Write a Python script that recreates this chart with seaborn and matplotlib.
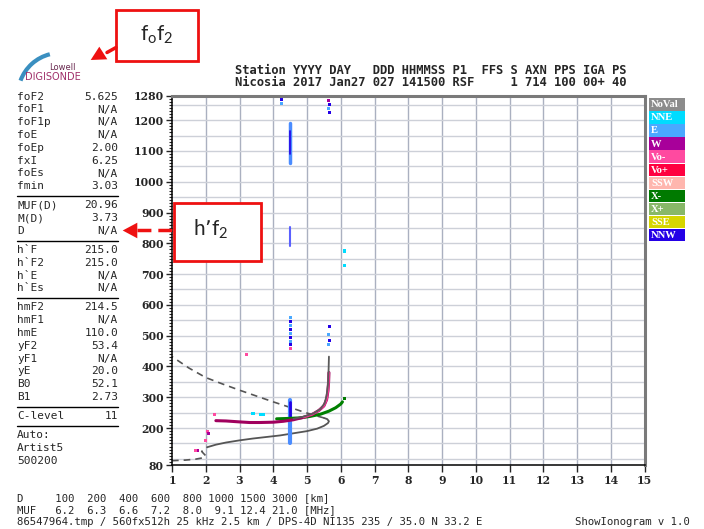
import matplotlib
matplotlib.use("Agg")
import matplotlib.pyplot as plt
import seaborn as sns
import pandas as pd
from matplotlib.patches import Rectangle, Polygon, Arc
from matplotlib.ticker import FixedLocator, MultipleLocator

# ---- values (frequency in MHz, virtual height in km) ----
freq_ticks = list(range(1, 16))
height_ticks = [80, 200, 300, 400, 500, 600, 700, 800, 900, 1000, 1100, 1200, 1280]

# O-mode trace
o_freq = [2.3, 2.6, 3.0, 3.3, 3.6, 4.0, 4.3, 4.6, 4.9, 5.15, 5.35, 5.5, 5.58, 5.62, 5.64, 5.65]
o_height = [224, 223, 220, 218, 218, 219, 222, 227, 235, 244, 257, 272, 292, 320, 350, 380]

# X-mode trace
x_freq = [4.1, 4.4, 4.8, 5.1, 5.4, 5.65, 5.85, 6.0, 6.05]
x_height = [230, 231, 233, 238, 245, 255, 266, 278, 285]

# autoscaled trace fit
fit_freq = [4.6, 4.9, 5.2, 5.4, 5.52, 5.58, 5.62, 5.64, 5.65]
fit_height = [230, 237, 248, 262, 280, 305, 340, 390, 432]

# electron density profile (solid part, bottomside and topside extrapolation)
prof_freq = [2.05, 2.3, 2.6, 3.0, 3.4, 3.8, 4.2, 4.6, 5.0, 5.3, 5.5, 5.62, 5.65, 5.6, 5.5]
prof_height = [138, 146, 153, 160, 166, 171, 176, 183, 190, 198, 207, 216, 222, 229, 233]
bottom_freq = [1.0, 1.4, 1.7, 1.9, 2.0, 1.93, 1.88, 1.95, 2.05]
bottom_height = [94, 96, 99, 103, 110, 118, 124, 131, 138]
top_freq = [5.5, 5.2, 4.9, 4.5, 4.0, 3.5, 3.0, 2.5, 2.0, 1.5, 1.0]
top_height = [233, 242, 252, 267, 285, 304, 323, 343, 364, 395, 432]

# vertical echo columns at 4.5 MHz
col_freq = [4.5, 4.5]
col_low = [152, 292]
col_low_core = [232, 285]
col_mid = [790, 852]
col_high = [1060, 1192]
col_high_core = [1090, 1165]

# scattered echoes
speck_freq = [4.5, 4.5, 4.5, 4.5, 4.5, 4.5, 4.5, 4.5, 4.5,
              4.24, 4.25, 5.65, 5.66, 5.65, 5.66, 5.65, 5.66, 5.65, 5.66,
              6.1, 6.1, 2.05, 2.08, 2.0, 1.75, 1.7, 3.4, 3.62, 3.7, 3.2, 6.1, 2.25]
speck_height = [470, 482, 495, 507, 520, 533, 546, 558, 458,
                1268, 1255, 1265, 1250, 1238, 1225, 470, 485, 505, 530,
                775, 728, 190, 183, 160, 128, 126, 248, 244, 243, 440, 295, 243]
speck_kind = ["NNW", "E", "NNW", "E", "NNW", "E", "NNW", "E", "Vo-",
              "NNW", "E", "W", "NNW", "E", "NNW", "E", "NNW", "E", "NNW",
              "NNE", "NNE", "Vo-", "W", "Vo-", "W", "Vo-", "NNE", "NNE", "NNE", "Vo-", "X-", "Vo-"]

legend_names = ["NoVal", "NNE", "E", "W", "Vo-", "Vo+", "SSW", "X-", "X+", "SSE", "NNW"]
legend_colors = ["#8c8c8c", "#00dcff", "#4aa8ff", "#a8009a", "#ff4aa0", "#ff0040",
                 "#ffb6ae", "#007a00", "#88b868", "#d6d600", "#2400e6"]

param_groups = [
    [("foF2", "5.625"), ("foF1", "N/A"), ("foF1p", "N/A"), ("foE", "N/A"),
     ("foEp", "2.00"), ("fxI", "6.25"), ("foEs", "N/A"), ("fmin", "3.03")],
    [("MUF(D)", "20.96"), ("M(D)", "3.73"), ("D", "N/A")],
    [("h`F", "215.0"), ("h`F2", "215.0"), ("h`E", "N/A"), ("h`Es", "N/A")],
    [("hmF2", "214.5"), ("hmF1", "N/A"), ("hmE", "110.0"), ("yF2", "53.4"),
     ("yF1", "N/A"), ("yE", "20.0"), ("B0", "52.1"), ("B1", "2.73")],
    [("C-level", "11")],
]
auto_lines = ["Auto:", "Artist5", "500200"]

header_lines = ["Station YYYY DAY   DDD HHMMSS P1  FFS S AXN PPS IGA PS",
                "Nicosia 2017 Jan27 027 141500 RSF     1 714 100 00+ 40"]
footer_lines = ["D     100  200  400  600  800 1000 1500 3000 [km]",
                "MUF   6.2  6.3  6.6  7.2  8.0  9.1 12.4 21.0 [MHz]",
                "86547964.tmp / 560fx512h 25 kHz 2.5 km / DPS-4D NI135 235 / 35.0 N 33.2 E"]

sns.set_style("white")
plt.rcParams["font.family"] = ["DejaVu Sans"]

fig = plt.figure(figsize=(7.04, 5.29), dpi=100)
ax = fig.add_axes([172 / 704, 64 / 529, 472.5 / 704, 369.5 / 529])
ax.set_xlim(1, 15)
ax.set_ylim(80, 1280)

# grid
for f in range(2, 15):
    ax.axvline(f, color="#aab0c0", lw=1.0, zorder=0)
for h in range(100, 1280, 50):
    ax.axhline(h, color="#cdd0d8", lw=1.0, zorder=0)

# profile
sns.lineplot(x=bottom_freq, y=bottom_height, sort=False, estimator=None, color="#555555",
             lw=1.2, linestyle=(0, (4, 3)), ax=ax)
sns.lineplot(x=prof_freq, y=prof_height, sort=False, estimator=None, color="#555555", lw=1.3, ax=ax)
sns.lineplot(x=top_freq, y=top_height, sort=False, estimator=None, color="#555555",
             lw=1.2, linestyle=(0, (4, 3)), ax=ax)

# echo traces
sns.lineplot(x=col_freq, y=col_low, sort=False, estimator=None, color="#4a8cff", lw=3, ax=ax)
sns.lineplot(x=col_freq, y=col_low_core, sort=False, estimator=None, color="#2400e6", lw=2, ax=ax)
sns.lineplot(x=col_freq, y=col_mid, sort=False, estimator=None, color="#5a60ff", lw=1.5, ax=ax)
sns.lineplot(x=col_freq, y=col_high, sort=False, estimator=None, color="#4a8cff", lw=2.5, ax=ax)
sns.lineplot(x=col_freq, y=col_high_core, sort=False, estimator=None, color="#2400e6", lw=1.2, ax=ax)
sns.lineplot(x=x_freq, y=x_height, sort=False, estimator=None, color="#008000", lw=2.2, ax=ax)
sns.lineplot(x=o_freq, y=o_height, sort=False, estimator=None, color="#a0005e", lw=2.2, ax=ax)
sns.lineplot(x=o_freq[8:], y=o_height[8:], sort=False, estimator=None, color="#ff3c96", lw=1.6, ax=ax)
sns.lineplot(x=fit_freq, y=fit_height, sort=False, estimator=None, color="#5a5a5a", lw=1.3, ax=ax)

specks = pd.DataFrame({"freq": speck_freq, "height": speck_height, "kind": speck_kind})
sns.scatterplot(data=specks, x="freq", y="height", hue="kind",
                palette=dict(zip(legend_names, legend_colors)), s=5, marker="s",
                linewidth=0, legend=False, ax=ax)

ax.set_xlabel("")
ax.set_ylabel("")
ax.xaxis.set_major_locator(FixedLocator(freq_ticks))
ax.yaxis.set_major_locator(FixedLocator(height_ticks))
ax.yaxis.set_minor_locator(MultipleLocator(10))
ax.tick_params(axis="x", direction="out", length=5, width=1, pad=2, bottom=True)
ax.tick_params(axis="y", which="major", direction="out", length=4, width=1, pad=2, left=True)
ax.tick_params(axis="y", which="minor", direction="out", length=2.5, width=0.8, left=True)
for lab in ax.get_xticklabels() + ax.get_yticklabels():
    lab.set_family("DejaVu Serif")
    lab.set_weight("bold")
    lab.set_size(7.8)

for side in ["left", "bottom"]:
    ax.spines[side].set_color("black")
    ax.spines[side].set_linewidth(1.1)
for side in ["top", "right"]:
    ax.spines[side].set_color("#7a7a7a")
    ax.spines[side].set_linewidth(2.2)

# ---- surrounding panel drawn in pixel coordinates ----
ov = fig.add_axes([0, 0, 1, 1], zorder=5)
ov.set_xlim(0, 704)
ov.set_ylim(529, 0)
ov.axis("off")

mono = "DejaVu Sans Mono"
for i, line in enumerate(header_lines):
    ov.text(235, 70 + i * 12, line, family=mono, weight="bold", size=8.7, va="center")

# logo
ov.add_patch(Arc((60, 95), 84, 84, theta1=200, theta2=256, color="#3a8fc0", lw=3))
ov.text(76, 67.5, "Lowell", color="#6a2a50", size=6, ha="right", va="center")
ov.text(25, 77.5, "DIGISONDE", color="#a0306a", size=7, ha="left", va="center")

# parameter table
y = 96.7
for gi, group in enumerate(param_groups):
    for name, value in group:
        ov.text(17, y, name, family=mono, size=8, va="center")
        ov.text(118, y, value, family=mono, size=8, va="center", ha="right")
        y += 12.8
    y += -12.8 + 10
    ov.plot([17, 118], [y, y], color="black", lw=1)
    y += 9
for line in auto_lines:
    ov.text(17, y, line, family=mono, size=8, va="center")
    y += 12.8

for i, line in enumerate(footer_lines):
    ov.text(17, 498 + i * 11.8, line, family=mono, size=7.7, va="center")
ov.text(690, 521.6, "ShowIonogram v 1.0", family=mono, size=7.7, va="center", ha="right")

# colour key
for i, (name, col) in enumerate(zip(legend_names, legend_colors)):
    top = 98.3 + i * 13.04
    ov.add_patch(Rectangle((649, top), 36, 12.3, facecolor=col, edgecolor="none"))
    ov.text(651, top + 6.6, name, color="white", family="Liberation Serif", weight="bold",
            size=7.6, va="center")

# red annotations
ov.add_patch(Rectangle((116, 9.5), 82, 51, facecolor="white", edgecolor="#ee1111", lw=2))
ov.text(157, 35, r"$\mathregular{f_of_2}$", family="Lato", size=15, ha="center", va="center")
ov.plot([107, 116], [52.5, 47.5], color="#ee1111", lw=2.5)
ov.add_patch(Polygon([(90.7, 60), (99.3, 46.7), (107.3, 59.3)], closed=True,
                     facecolor="#ee1111", edgecolor="none"))

ov.add_patch(Rectangle((173.5, 202.5), 87, 58, facecolor="white", edgecolor="#ee1111", lw=2))
ov.text(211, 229, r"h’f$\mathregular{_2}$", family="Lato", size=15, ha="center", va="center")
ov.plot([137, 173], [229.5, 229.5], color="#ee1111", lw=2.5, linestyle=(0, (4, 2)))
ov.add_patch(Polygon([(122.7, 230.5), (137.3, 222.7), (137.3, 238.3)], closed=True,
                     facecolor="#ee1111", edgecolor="none"))

fig.savefig("out.png", dpi=100)
